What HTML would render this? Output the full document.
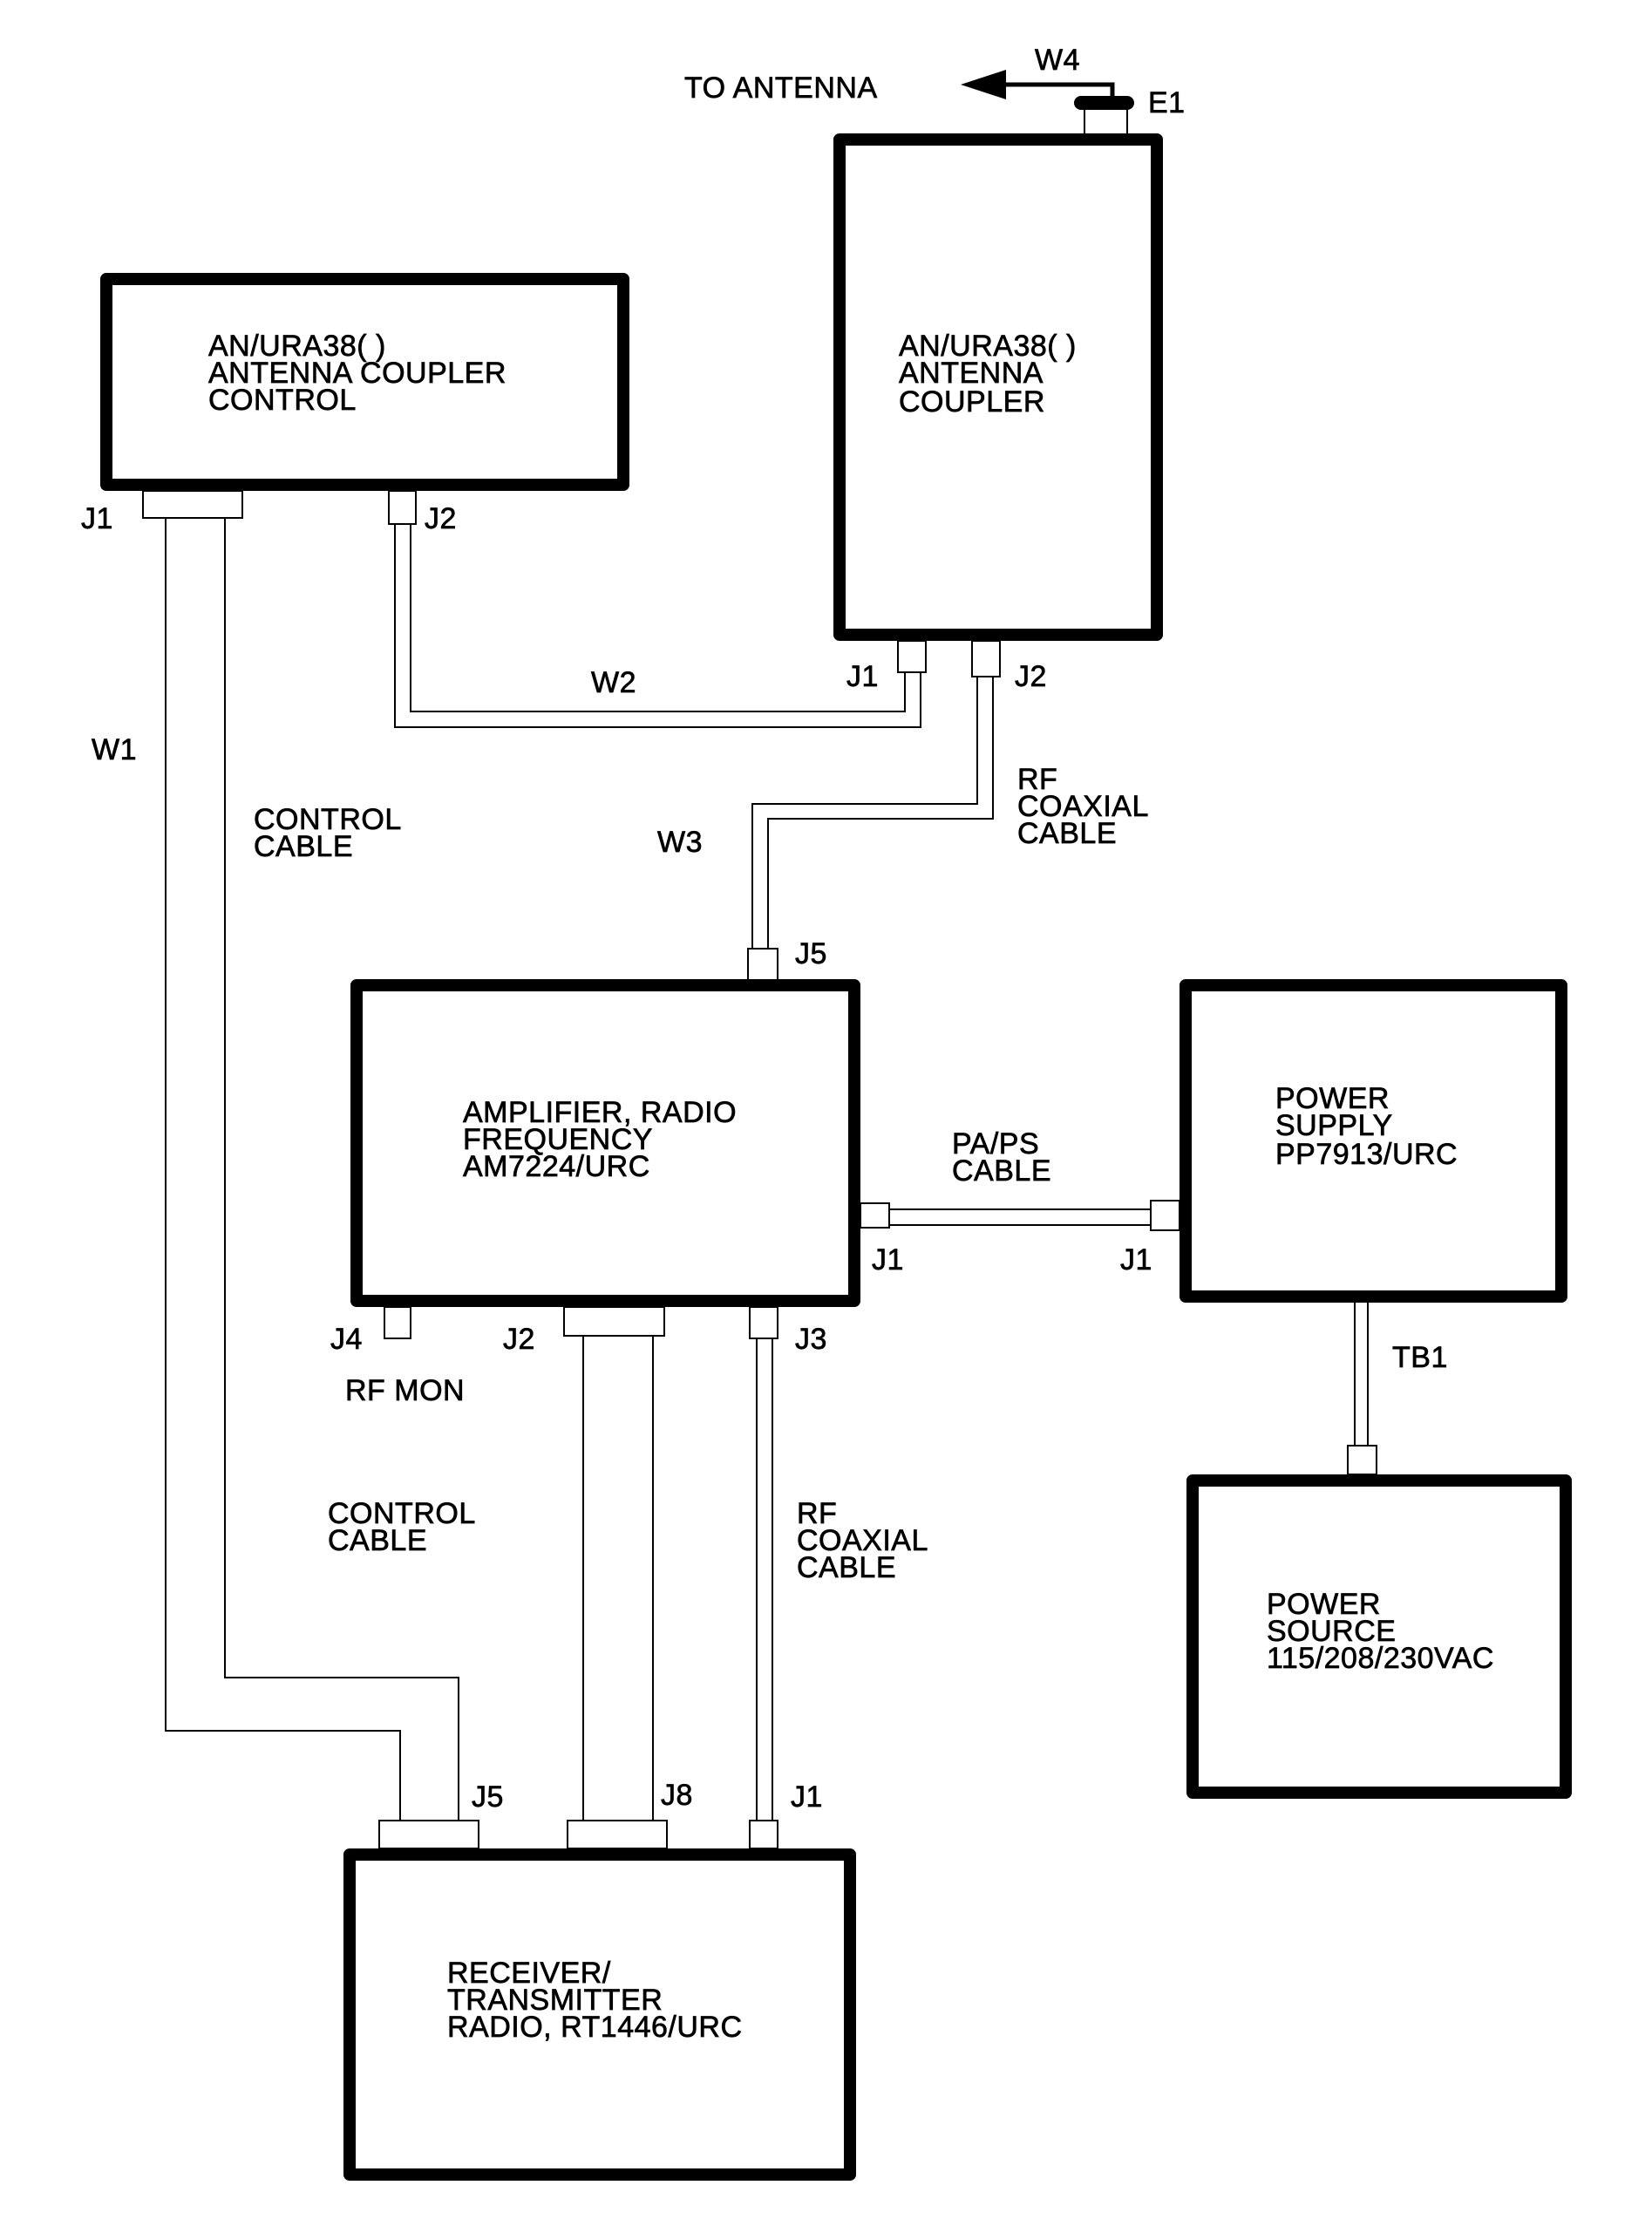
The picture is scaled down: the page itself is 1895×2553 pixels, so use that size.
<!DOCTYPE html>
<html><head><meta charset="utf-8"><style>
html,body{margin:0;padding:0;background:#fff;}
svg{display:block;}
text{font-family:"Liberation Sans",Arial,sans-serif;font-size:34px;letter-spacing:0.5px;fill:#000;stroke:#000;stroke-width:0.7px;}
</style></head><body>
<svg width="1895" height="2553" viewBox="0 0 1895 2553" xmlns="http://www.w3.org/2000/svg">
<g transform="translate(-3,-4)">
<g fill="none" stroke="#000" stroke-width="14" stroke-linejoin="round">
<rect x="125" y="324" width="593" height="236"/>
<rect x="966" y="164" width="364" height="568"/>
<rect x="412" y="1134" width="571" height="362"/>
<rect x="1363" y="1134" width="431" height="357"/>
<rect x="1371" y="1702" width="428" height="358"/>
<rect x="404" y="2131" width="574" height="367"/>
</g>
<g fill="none" stroke="#000" stroke-width="2">
<line x1="1247" y1="129" x2="1247" y2="157"/><line x1="1296" y1="129" x2="1296" y2="157"/>
<rect x="167" y="567" width="114" height="31"/>
<polyline points="193,598 193,1989 462,1989 462,2092"/>
<polyline points="261,598 261,1928 529,1928 529,2092"/>
<rect x="449" y="567" width="31" height="38"/>
<polyline points="456,605 456,838 1059,838 1059,775"/>
<polyline points="474,605 474,820 1041,820 1041,775"/>
<rect x="1033" y="739" width="32" height="36"/>
<rect x="1118" y="739" width="32" height="41"/>
<polyline points="1124,780 1124,926 866,926 866,1092"/>
<polyline points="1142,780 1142,943 884,943 884,1092"/>
<rect x="861" y="1092" width="34" height="36"/>
<rect x="990" y="1384" width="33" height="28"/>
<rect x="1323" y="1381" width="33" height="34"/>
<line x1="1023" y1="1391" x2="1323" y2="1391"/><line x1="1023" y1="1409" x2="1323" y2="1409"/>
<line x1="1557" y1="1498" x2="1557" y2="1662"/><line x1="1572" y1="1498" x2="1572" y2="1662"/>
<rect x="1549" y="1662" width="33" height="33"/>
<rect x="444" y="1503" width="30" height="36"/>
<rect x="650" y="1503" width="115" height="33"/>
<line x1="672" y1="1536" x2="672" y2="2092"/><line x1="752" y1="1536" x2="752" y2="2092"/>
<rect x="863" y="1503" width="32" height="36"/>
<line x1="871" y1="1539" x2="871" y2="2092"/><line x1="889" y1="1539" x2="889" y2="2092"/>
<rect x="438" y="2092" width="114" height="32"/>
<rect x="654" y="2092" width="114" height="32"/>
<rect x="863" y="2092" width="32" height="32"/>
</g>
<rect x="1235" y="114" width="69" height="16" rx="8" fill="#000"/>
<polyline points="1279,114 1279,101 1150,101" fill="none" stroke="#000" stroke-width="5"/>
<polygon points="1105,101 1157,84 1157,118" fill="#000"/>
<text x="1190" y="84">W4</text>
<text x="1320" y="133">E1</text>
<text x="788" y="116">TO ANTENNA</text>
<text x="242" y="412">AN/URA38( )</text>
<text x="242" y="443">ANTENNA COUPLER</text>
<text x="242" y="474">CONTROL</text>
<text x="1034" y="412">AN/URA38( )</text>
<text x="1034" y="443">ANTENNA</text>
<text x="1034" y="476">COUPLER</text>
<text x="96" y="610">J1</text>
<text x="490" y="610">J2</text>
<text x="681" y="798">W2</text>
<text x="974" y="791">J1</text>
<text x="1167" y="791">J2</text>
<text x="1170" y="909">RF</text>
<text x="1170" y="940">COAXIAL</text>
<text x="1170" y="971">CABLE</text>
<text x="757" y="981">W3</text>
<text x="108" y="875">W1</text>
<text x="294" y="955">CONTROL</text>
<text x="294" y="986">CABLE</text>
<text x="915" y="1109">J5</text>
<text x="534" y="1291">AMPLIFIER, RADIO</text>
<text x="534" y="1322">FREQUENCY</text>
<text x="534" y="1353">AM7224/URC</text>
<text x="1466" y="1275">POWER</text>
<text x="1466" y="1306">SUPPLY</text>
<text x="1466" y="1339">PP7913/URC</text>
<text x="1095" y="1327">PA/PS</text>
<text x="1095" y="1358">CABLE</text>
<text x="1003" y="1460">J1</text>
<text x="1288" y="1460">J1</text>
<text x="1600" y="1572">TB1</text>
<text x="1456" y="1855">POWER</text>
<text x="1456" y="1886">SOURCE</text>
<text x="1456" y="1917">115/208/230VAC</text>
<text x="382" y="1551">J4</text>
<text x="580" y="1551">J2</text>
<text x="915" y="1551">J3</text>
<text x="399" y="1610">RF MON</text>
<text x="379" y="1751">CONTROL</text>
<text x="379" y="1782">CABLE</text>
<text x="917" y="1751">RF</text>
<text x="917" y="1782">COAXIAL</text>
<text x="917" y="1813">CABLE</text>
<text x="544" y="2076">J5</text>
<text x="761" y="2074">J8</text>
<text x="910" y="2076">J1</text>
<text x="516" y="2278">RECEIVER/</text>
<text x="516" y="2309">TRANSMITTER</text>
<text x="516" y="2340">RADIO, RT1446/URC</text>
</g>
</svg>
</body></html>
